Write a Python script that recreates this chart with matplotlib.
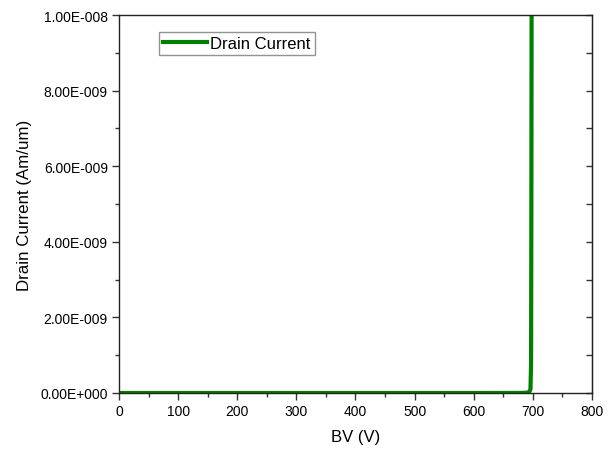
import matplotlib
matplotlib.use("Agg")
import matplotlib.pyplot as plt
from matplotlib.ticker import MultipleLocator, FuncFormatter

plt.rcParams['font.family'] = ['Liberation Sans', 'DejaVu Sans']

# Data
bv = [0, 100, 200, 300, 400, 500, 600, 650, 680, 690, 694, 696, 697, 697.5, 698]
drain_current = [0, 0, 0, 0, 0, 0, 1e-13, 5e-13, 2e-12, 8e-12, 3e-11, 1e-10, 8e-10, 5e-9, 1.2e-8]

x_ticks = [0, 100, 200, 300, 400, 500, 600, 700, 800]
y_ticks = [0, 2e-9, 4e-9, 6e-9, 8e-9, 1e-8]

def sci_fmt(v, pos):
    if v == 0:
        return "0.00E+000"
    s = "%.2E" % v
    mant, exp = s.split("E")
    sign = exp[0]
    e = int(exp[1:])
    return "%sE%s%03d" % (mant, sign, e)

fig = plt.figure(figsize=(6.13, 4.56), dpi=100)
ax = fig.add_axes([0.1941, 0.136, 0.7716, 0.8289])

ax.plot(bv, drain_current, color="#007f00", lw=3, label="Drain Current", solid_joinstyle="miter")

ax.set_xlim(0, 800)
ax.set_ylim(0, 1e-8)
ax.set_xticks(x_ticks)
ax.set_yticks(y_ticks)
ax.xaxis.set_minor_locator(MultipleLocator(50))
ax.yaxis.set_minor_locator(MultipleLocator(1e-9))
ax.yaxis.set_major_formatter(FuncFormatter(sci_fmt))

ax.tick_params(axis='both', which='major', direction='out', length=5, width=1, labelsize=10, color='#333333', pad=3)
ax.tick_params(axis='both', which='minor', direction='out', length=3, width=1, color='#333333')

# right inward ticks
axr = ax.secondary_yaxis('right')
axr.set_yticks([i * 1e-9 for i in range(11)])
axr.tick_params(direction='in', length=4, width=1, labelright=False, color='#333333')
axr.yaxis.set_major_formatter(FuncFormatter(lambda v, p: ""))

for sp in ax.spines.values():
    sp.set_color('#222222')
    sp.set_linewidth(1)

ax.set_xlabel("BV (V)", fontsize=12, labelpad=8)
ax.set_ylabel("Drain Current (Am/um)", fontsize=12.2)
ax.yaxis.set_label_coords(-0.184, 0.5)

leg = ax.legend(loc='upper left', bbox_to_anchor=(0.085, 0.955), fontsize=12, frameon=True,
                fancybox=False, edgecolor='#777777', handlelength=2.6, handletextpad=0.2,
                borderpad=0.25, borderaxespad=0)
leg.get_frame().set_linewidth(1)

fig.savefig("out.png", dpi=100)
